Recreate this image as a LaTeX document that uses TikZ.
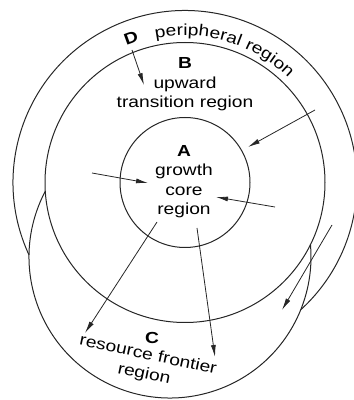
\documentclass[tikz,border=0pt]{standalone}
\usepackage{fontspec}
\setmainfont{Liberation Sans}[FakeStretch=1.2]
\usetikzlibrary{arrows.meta, calc, decorations.text}

\begin{document}
\begin{tikzpicture}[
        % styles
        x=1pt, y=1pt,
        >={Latex[length=12pt,width=5pt]},
        ring/.style={draw=black!85, line width=1pt},
        flow/.style={->, line width=0.8pt, color=black!85},
        txt/.style={align=center, font=\fontsize{16}{19.5}\selectfont, inner sep=0pt}
    ]
    \useasboundingbox (0,0) rectangle (354,400);

    % centres
    \coordinate (ctr) at (185,217.5);
    \coordinate (c_ctr) at (170,143);

    % 1. rings
    \draw[ring] (ctr) circle[radius=65];
    \draw[ring] (ctr) circle[radius=140];
    % outer ring (upper part only)
    \draw[ring] ($(ctr)+(204.9:172)$) arc[start angle=204.9, end angle=-47.7, radius=172];
    % region C (below ring B)
    \draw[ring] ($(c_ctr)+(152.2:141)$) arc[start angle=152.2, end angle=365, radius=141];

    % 2. labels
    \node (a_txt) [txt] at (184,218.5) {\textbf{A}\\growth\\core\\region};
    \node (b_txt) [txt] at (185,315.5) {\textbf{B}\\upward\\transition region};
    \node (c_txt) [txt] at (152,62) {\textbf{C}};
    \node (c_sub) [txt, rotate=-12] at (146,35) {resource frontier\\region};
    \node (d_txt) [txt, rotate=20] at (131,362) {\textbf{D}};
    \path[decorate, decoration={text along path,
        text={|\fontsize{16}{19.5}\selectfont|peripheral region}}]
        ($(ctr)+(101.5:147)$) arc[start angle=101.5, end angle=40, radius=147];

    % 3. flows
    \coordinate (d_tail) at (132,350);  \coordinate (d_head) at (144,315);
    \coordinate (ne_tail) at (315,290); \coordinate (ne_head) at (248,253);
    \coordinate (w_tail) at (92,227);   \coordinate (w_head) at (148,217);
    \coordinate (e_tail) at (275,193);  \coordinate (e_head) at (216,203);
    \coordinate (sw_tail) at (157,178); \coordinate (sw_head) at (85,67);
    \coordinate (s_tail) at (197,172);  \coordinate (s_head) at (215,43);
    \coordinate (se_tail) at (332,175); \coordinate (se_head) at (282,90);

    \draw[flow] (d_tail) -- (d_head);
    \draw[flow] (ne_tail) -- (ne_head);
    \draw[flow] (w_tail) -- (w_head);
    \draw[flow] (e_tail) -- (e_head);
    \draw[flow] (sw_tail) -- (sw_head);
    \draw[flow] (s_tail) -- (s_head);
    \draw[flow] (se_tail) -- (se_head);

\end{tikzpicture}
\end{document}
